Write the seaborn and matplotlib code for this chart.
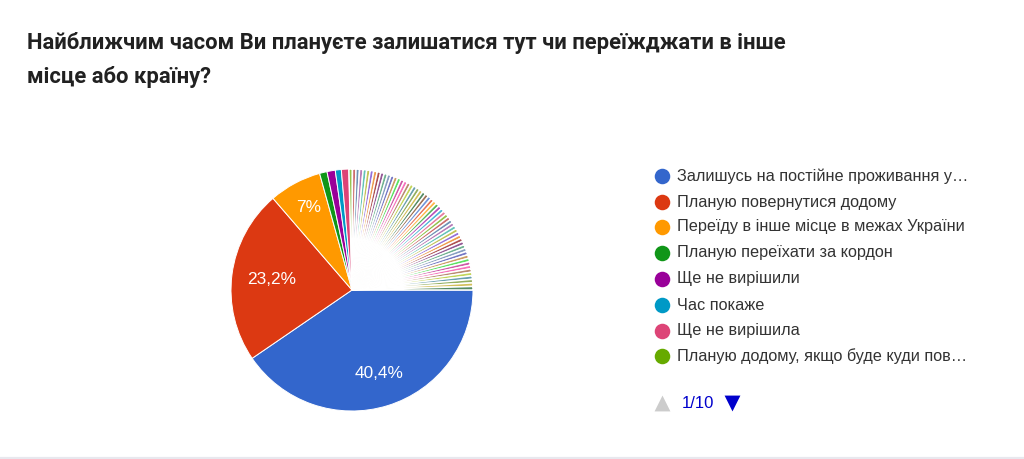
import matplotlib
matplotlib.use("Agg")
import matplotlib.pyplot as plt
import seaborn as sns
import pandas as pd

# =========================
# Data
# =========================
title_lines = [
    "Найближчим часом Ви плануєте залишатися тут чи переїжджати в інше",
    "місце або країну?",
]
legend_labels = [
    "Залишусь на постійне проживання у…",
    "Планую повернутися додому",
    "Переїду в інше місце в межах України",
    "Планую переїхати за кордон",
    "Ще не вирішили",
    "Час покаже",
    "Ще не вирішила",
    "Планую додому, якщо буде куди пов…",
]
main_shares = [40.4, 23.2, 7.0, 1.0, 1.1, 0.8, 1.0]
# single answers, all about the same size
small_shares = [
    0.47, 0.47, 0.47, 0.47, 0.47, 0.47, 0.47, 0.47, 0.47,
    0.47, 0.47, 0.47, 0.47, 0.47, 0.47, 0.47, 0.47, 0.47,
    0.47, 0.47, 0.47, 0.47, 0.47, 0.47, 0.47, 0.47, 0.47,
    0.47, 0.47, 0.47, 0.47, 0.47, 0.47, 0.47, 0.47, 0.47,
    0.47, 0.47, 0.47, 0.47, 0.47, 0.47, 0.47, 0.47, 0.47,
    0.47, 0.47, 0.47, 0.47, 0.47, 0.47, 0.47, 0.47, 0.47,
]
pie_labels = ["40,4%", "23,2%", "7%"]
page_text = "1/10"

# Google Charts colour cycle
google_colors = [
    "#3366cc", "#dc3912", "#ff9900", "#109618", "#990099", "#0099c6", "#dd4477",
    "#66aa00", "#b82e2e", "#316395", "#994499", "#22aa99", "#aaaa11", "#6633cc",
    "#e67300", "#8b0707", "#651067", "#329262", "#5574a6", "#3b3eac", "#b77322",
    "#16d620", "#b91383", "#f4359e", "#9c5935", "#a9c413", "#2a778d", "#668d1c",
    "#bea413", "#0c5922", "#743411",
]

df = pd.DataFrame({"share": main_shares + small_shares})
palette = sns.color_palette(google_colors, n_colors=len(google_colors))
df["color"] = [palette[i % len(palette)] for i in range(len(df))]

sns.set_theme(style="white")
plt.rcParams["font.family"] = ["Liberation Sans", "DejaVu Sans"]

W, H = 1024, 459
fig = plt.figure(figsize=(W / 100, H / 100), dpi=100, facecolor="white")
ax = fig.add_axes([0, 0, 1, 1])


def py(y):
    # picture pixels count from the top
    return H - y


# =========================
# Pie
# =========================
wedges, _ = ax.pie(
    df["share"],
    colors=df["color"],
    startangle=0,
    counterclock=False,
    center=(352, py(290)),
    radius=121,
    wedgeprops={"edgecolor": "white", "linewidth": 0.7},
)
# thin slices look washed out in the original, the white border eats them
for wedge in wedges[len(main_shares):]:
    r, g, b, _a = wedge.get_facecolor()
    wedge.set_facecolor((r + (1 - r) * 0.3, g + (1 - g) * 0.3, b + (1 - b) * 0.3))
    wedge.set_linewidth(1.1)
ax.set_xlim(0, W)
ax.set_ylim(0, H)
ax.set_aspect("equal")

ax.text(379, py(374), pie_labels[0], color="white", fontsize=12.4, ha="center", va="center")
ax.text(272, py(280), pie_labels[1], color="white", fontsize=12.4, ha="center", va="center")
ax.text(309, py(207), pie_labels[2], color="white", fontsize=12.4, ha="center", va="center")

# =========================
# Title
# =========================
for line, y in zip(title_lines, [42, 76]):
    ax.text(27, py(y + 0.5), line, color="#212121", fontsize=15.85, fontweight="bold",
            family="Roboto", ha="left", va="center")

# =========================
# Legend
# =========================
legend_y = [176, 202, 227, 253, 279, 305, 331, 356]
for i, (label, y) in enumerate(zip(legend_labels, legend_y)):
    ax.scatter([662], [py(y)], s=125, color=palette[i], linewidths=0)
    ax.text(677, py(y), label, color="#333333", fontsize=11.7, ha="left", va="center")

ax.scatter([662], [py(403)], marker="^", s=130, color="#cccccc", linewidths=0)
ax.text(682, py(403), page_text, color="#0000cc", fontsize=12, ha="left", va="center")
ax.scatter([732], [py(403)], marker="v", s=130, color="#0000cc", linewidths=0)

# thin rule at the bottom of the card
ax.plot([0, W], [py(458), py(458)], color="#e8e8ee", lw=1.6)

fig.savefig("out.png", dpi=100)
plt.close(fig)
